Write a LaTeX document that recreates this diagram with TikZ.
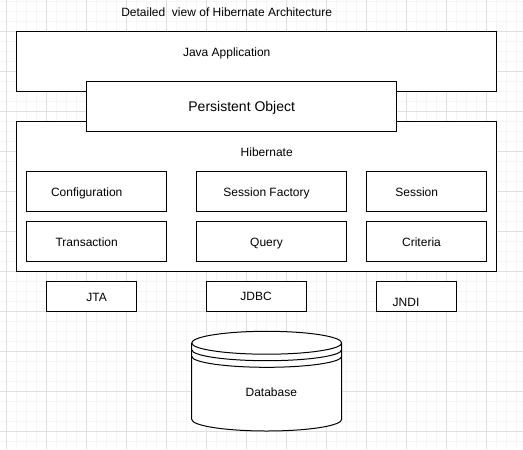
\documentclass[tikz,border=0pt]{standalone}
\usepackage{fontspec}
\setmainfont{Liberation Sans}
\begin{document}
\begin{tikzpicture}[x=0.75pt,y=-0.75pt,
  minorline/.style={draw=gray!8,line width=0.75pt},
  majorline/.style={draw=gray!25,line width=0.75pt},
  box/.style={draw=black,fill=white,line width=0.75pt,inner sep=0pt,outer sep=0pt},
  txt/.style={inner sep=0pt,anchor=base,font=\fontsize{9}{11}\selectfont,text=black},
  bigtxt/.style={inner sep=0pt,anchor=base,font=\fontsize{10.5}{12}\selectfont,text=black}]
\useasboundingbox (0,0) rectangle (523,449);
\fill[white] (0,0) rectangle (523,449);
% grid
\foreach \x in {6.7,16.7,...,523} {\draw[minorline] (\x,0) -- (\x,449);}
\foreach \y in {1.7,11.7,...,449} {\draw[minorline] (0,\y) -- (523,\y);}
\foreach \x in {6.7,46.7,...,523} {\draw[majorline] (\x,0) -- (\x,449);}
\foreach \y in {31.7,71.7,...,449} {\draw[majorline] (0,\y) -- (523,\y);}
% title
\node[txt] (title) at (226.7,16.3) {Detailed\ \ view of Hibernate Architecture};
% Java application
\node[box,minimum width={480*0.75pt},minimum height={60*0.75pt}] (java) at (256.7,61.7) {};
\node[txt] (javat) at (226.7,56.3) {Java Application};
% Hibernate
\node[box,minimum width={480*0.75pt},minimum height={150*0.75pt}] (hib) at (256.7,196.7) {};
\node[txt] (hibt) at (266.7,156.3) {Hibernate};
% Persistent Object
\node[box,minimum width={310*0.75pt},minimum height={50*0.75pt}] (po) at (241.7,106.7) {};
\node[bigtxt] (pot) at (241.7,112) {Persistent Object};
% inner boxes
\node[box,minimum width={140*0.75pt},minimum height={40*0.75pt}] (cfg) at (96.7,191.7) {};
\node[txt] (cfgt) at (86.7,196) {Configuration};
\node[box,minimum width={150*0.75pt},minimum height={40*0.75pt}] (sf) at (271.7,191.7) {};
\node[txt] (sft) at (266.5,196) {Session Factory};
\node[box,minimum width={120*0.75pt},minimum height={40*0.75pt}] (ses) at (426.7,191.7) {};
\node[txt] (sest) at (416.7,196) {Session};
\node[box,minimum width={140*0.75pt},minimum height={40*0.75pt}] (tra) at (96.7,241.7) {};
\node[txt] (trat) at (86.7,246) {Transaction};
\node[box,minimum width={150*0.75pt},minimum height={40*0.75pt}] (qry) at (271.7,241.7) {};
\node[txt] (qryt) at (266.5,246) {Query};
\node[box,minimum width={120*0.75pt},minimum height={40*0.75pt}] (cri) at (426.7,241.7) {};
\node[txt] (crit) at (421.5,246) {Criteria};
% bottom boxes
\node[box,minimum width={90*0.75pt},minimum height={30*0.75pt}] (jta) at (91.7,296.7) {};
\node[txt] (jtat) at (96.7,301) {JTA};
\node[box,minimum width={100*0.75pt},minimum height={30*0.75pt}] (jdbc) at (256.7,296.7) {};
\node[txt] (jdbct) at (256,300.3) {JDBC};
\node[box,minimum width={80*0.75pt},minimum height={30*0.75pt}] (jndi) at (416.7,296.7) {};
\node[txt] (jndit) at (406,306) {JNDI};
% database
\filldraw[fill=white,draw=black,line width=0.75pt] (191.7,343) -- (191.7,419.3)
  arc[start angle=180,end angle=0,x radius=75,y radius=11.7] -- (341.7,343)
  arc[start angle=0,end angle=-180,x radius=75,y radius=11.7] -- cycle;
\draw[line width=0.75pt] (191.7,343) arc[start angle=180,end angle=0,x radius=75,y radius=11.2];
\draw[line width=0.75pt] (191.7,349.7) arc[start angle=180,end angle=0,x radius=75,y radius=11];
\draw[line width=0.75pt] (191.7,356.3) arc[start angle=180,end angle=0,x radius=75,y radius=11];
\node[txt] (db) at (271.3,396) {Database};
\end{tikzpicture}
\end{document}
